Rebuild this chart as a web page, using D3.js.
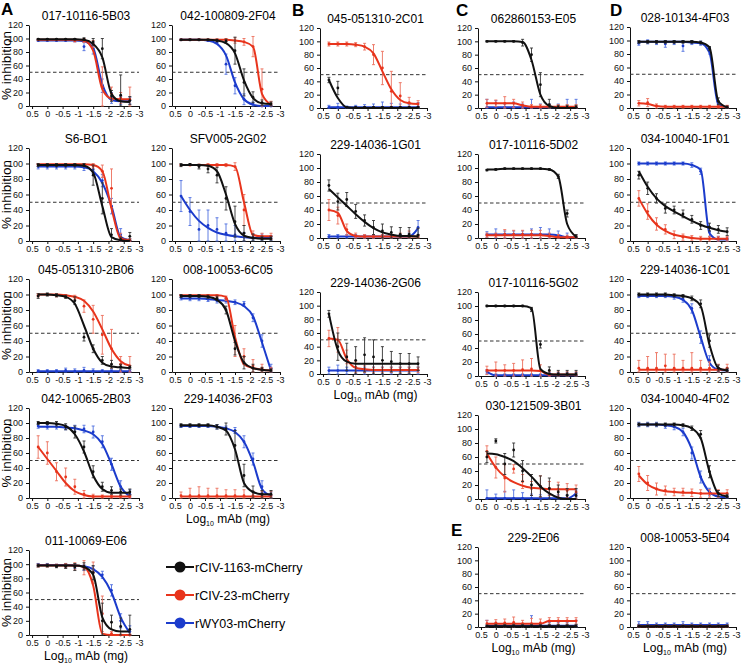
<!DOCTYPE html>
<html><head><meta charset="utf-8">
<script src="https://cdn.jsdelivr.net/npm/d3@7"></script>
<style>body{margin:0;background:#fff} svg{font-family:"Liberation Sans",Arial,sans-serif}</style>
</head><body><svg id="c" width="744" height="669"></svg>
<script>
// ---------- DATA ----------
const doses = [0.3, 0, -0.3, -0.6, -0.9, -1.2, -1.5, -1.8, -2.1, -2.4, -2.7]; // log10 mAb (mg)
const xTicks = [0.5, 0, -0.5, -1, -1.5, -2, -2.5, -3];
const yTicks = [0, 20, 40, 60, 80, 100, 120];
const viruses = ["rCIV-1163-mCherry", "rCIV-23-mCherry", "rWY03-mCherry"];
const panelLetters = ["A", "B", "C", "D", "E"];
const panelNames = ["017-10116-5B03","042-100809-2F04","S6-BO1","SFV005-2G02","045-051310-2B06","008-10053-6C05",
  "042-10065-2B03","229-14036-2F03","011-10069-E06","045-051310-2C01","229-14036-1G01","229-14036-2G06",
  "062860153-E05","017-10116-5D02","017-10116-5G02","030-121509-3B01","028-10134-4F03","034-10040-1F01",
  "229-14036-1C01","034-10040-4F02","229-2E06","008-10053-5E04"];

const blackFit = [
[99,99,99,99,99,98,92,72,18,7,6],[98,98,98,98,97,93,78,38,12,4,3],[98,98,98,98,98,97,88,45,5,1,0],[98,98,98,97,90,60,22,7,4,3,3],
[100,100,99,97,88,60,30,12,7,6,5],[98,98,98,97,93,80,40,12,5,3,2],[100,100,99,96,85,62,30,12,7,7,7],[97,97,97,97,95,90,65,20,8,5,5],
[98,98,98,98,98,96,85,25,8,5,5],[42,15,1,0,0,0,0,0,0,0,0],[70,58,46,34,23,14,8,5,3,3,2],[88,35,18,15,15,15,15,15,15,15,15],
[100,100,100,100,99,72,20,3,0,0,0],[98,98,99,99,99,99,99,98,88,20,2],[100,100,100,100,100,97,10,3,2,2,2],[65,64,60,54,44,32,18,8,2,0,0],
[98,98,98,98,98,98,98,97,90,10,1],[90,70,55,45,38,32,26,21,17,14,12],[100,100,100,100,99,98,95,85,35,5,2],[98,98,98,98,98,97,93,80,35,6,2],
[1,1,1,1,1,1,1,1,1,1,1],[1,1,1,1,1,1,1,1,1,1,1]];
const blackPts = [
[99,99,99,99,99,99,95,85,15,16,8],[98,98,98,98,97,96,82,35,13,5,3],[98,98,98,98,98,98,85,55,8,2,6],[98,99,96,93,85,55,25,10,4,3,3],
[98,100,99,97,92,45,30,15,10,7,6],[98,98,98,97,95,80,30,12,5,3,2],[100,100,99,95,88,68,35,15,10,8,8],[97,97,97,97,95,92,70,30,8,5,5],
[98,98,97,97,96,97,88,20,18,12,8],[42,30,1,1,1,1,1,1,1,1,1],[75,52,55,38,25,15,10,8,5,5,4],[88,40,25,20,28,25,20,18,15,15,15],
[100,100,100,100,98,80,35,5,1,1,1],[97,98,99,99,99,99,99,98,88,35,2],[100,100,100,100,100,95,45,8,3,3,3],[60,83,50,70,40,20,18,15,10,5,5],
[98,98,98,98,98,98,98,97,88,10,1],[85,68,55,42,40,35,28,20,18,15,12],[100,100,100,100,99,98,95,88,40,5,2],[98,98,98,98,98,97,93,85,35,6,2],
[1,1,1,1,1,1,1,1,1,1,1],[1,1,1,1,1,1,1,1,1,1,1]];
const blackErr = [
[1,1,1,1,1,2,5,15,8,30,6],[1,1,1,1,2,3,20,20,8,4,3],[2,2,2,2,2,2,13,20,8,3,5],[2,1,3,5,10,15,20,10,5,3,3],
[3,2,2,2,5,5,5,5,5,3,2],[2,2,2,2,3,5,8,8,5,3,2],[2,2,3,4,8,8,8,6,5,4,4],[2,2,2,2,3,8,20,15,8,5,5],
[2,2,2,3,5,5,10,25,10,12,20],[4,10,1,1,1,1,1,1,1,1,1],[8,12,10,10,8,10,10,8,10,10,10],[5,20,20,20,25,25,20,15,15,15,10],
[1,1,1,1,5,10,18,8,3,3,3],[1,1,1,1,1,1,1,1,3,5,3],[1,1,1,1,1,3,5,5,5,5,5],[8,3,15,10,15,15,15,15,10,10,10],
[2,2,2,2,2,2,2,2,3,5,2],[5,8,6,6,5,5,5,5,5,5,5],[2,2,2,2,2,2,3,5,8,4,3],[2,2,2,2,2,2,3,5,8,4,3],
[2,3,3,3,3,3,3,3,3,3,3],[2,2,2,2,2,2,2,2,2,2,2]];

const redFit = [
[98,98,98,98,98,97,82,25,11,10,10],[98,98,98,98,98,98,97,95,88,18,2],[99,99,99,99,99,99,98,90,42,3,1],[98,98,98,98,98,98,96,50,8,6,6],
[100,100,100,99,97,92,78,55,30,14,8],[99,99,99,99,99,97,45,10,5,3,2],[68,52,36,20,9,4,2,2,2,2,2],[2,2,2,2,2,2,2,2,2,2,2],
[98,98,98,98,98,96,70,2,0,0,0],[96,96,96,95,92,82,55,28,12,7,6],[40,36,10,3,2,2,2,2,2,2,2],[52,50,22,9,7,6,6,6,6,6,6],
[7,7,7,7,4,2,2,2,2,2,2],[4,4,4,4,4,4,4,3,1,1,1],[8,8,8,8,8,8,7,2,2,2,2],[65,45,32,24,19,16,15,14,14,14,14],
[7,6,3,2,2,2,2,2,2,2,2],[55,35,21,13,8,6,4,3,3,3,3],[3,3,3,3,3,3,3,3,3,3,3],[30,18,12,9,8,7,7,6,6,6,6],
[5,5,5,5,5,5,5,9,9,9,9],[1,1,1,1,1,1,1,1,1,1,1]];
const redPts = [
[98,98,98,98,97,97,92,28,18,12,10],[98,98,98,98,98,98,97,95,88,25,3],[99,99,99,99,99,99,97,90,68,5,1],[98,98,98,98,98,98,96,40,8,6,6],
[99,100,99,98,96,85,68,48,30,10,8],[99,99,99,99,98,95,40,20,8,5,3],[68,60,35,28,15,5,2,2,2,2,2],[3,3,3,3,3,3,3,3,3,3,3],
[98,98,98,98,97,95,88,30,2,0,0],[96,96,96,95,92,80,60,25,18,8,6],[40,32,12,3,2,2,2,2,2,2,2],[52,50,25,10,7,6,6,6,6,6,6],
[7,7,7,7,4,2,2,2,2,2,2],[4,4,5,5,5,5,5,3,2,1,1],[8,8,8,8,9,10,8,2,2,2,2],[68,45,30,43,25,15,18,15,14,12,10],
[7,8,3,2,2,2,2,2,2,2,2],[55,38,22,15,8,5,4,3,3,3,3],[5,5,5,8,5,5,5,5,5,5,5],[32,20,12,10,8,8,7,6,6,6,6],
[5,6,6,7,5,5,6,9,9,9,9],[1,1,1,1,1,1,1,1,1,1,1]];
const redErr = [
[1,1,1,1,2,3,5,30,10,8,18],[1,1,1,1,1,2,4,5,15,30,4],[1,1,1,1,1,1,3,8,25,5,2],[1,1,1,2,2,2,5,20,5,4,4],
[2,1,2,2,3,8,18,25,25,10,12],[1,1,1,1,2,3,20,10,8,5,3],[15,15,12,12,10,5,3,2,2,2,2],[5,10,12,10,10,8,8,8,6,6,6],
[2,2,2,3,5,10,15,25,3,1,1],[3,3,3,3,5,15,25,30,20,8,5],[15,12,8,4,3,3,3,3,5,8,3],[12,18,10,8,5,4,4,4,4,4,4],
[6,5,10,6,5,3,3,3,3,3,3],[3,3,7,6,6,6,6,4,3,3,3],[6,12,8,10,14,15,8,4,4,4,4],[8,15,20,6,10,10,15,10,10,10,10],
[4,6,3,2,2,2,2,2,2,2,2],[10,10,8,6,5,4,3,3,3,3,3],[10,15,20,15,18,10,20,10,8,5,5],[10,10,8,6,5,5,5,5,5,5,5],
[5,5,6,8,5,8,6,5,5,5,5],[2,2,2,2,2,2,2,2,2,2,2]];

const blueFit = [
[97,97,97,97,97,96,86,32,9,7,7],[98,98,98,97,92,75,35,10,2,0,0],[96,96,96,96,96,95,90,75,45,5,1],[58,40,26,17,11,8,6,5,4,4,4],
[1,1,1,1,1,1,1,1,1,1,1],[95,95,95,94,93,92,90,85,72,38,2],[95,95,95,94,93,90,85,72,45,15,2],[96,96,96,96,95,93,88,75,48,12,3],
[99,99,99,99,98,97,93,82,60,25,3],[1,1,1,1,1,1,1,1,1,1,1],[2,2,2,2,2,2,2,2,2,2,14],[5,5,5,5,5,5,5,5,5,5,5],
[1,1,1,1,1,1,1,1,1,1,1],[5,5,5,5,5,5,5,5,4,1,1],[6,1,1,1,1,1,1,1,1,1,1],[1,1,1,1,1,1,1,1,1,1,8],
[98,98,98,98,98,98,97,96,82,5,1],[100,100,100,100,100,100,98,92,10,2,2],[98,98,98,98,97,93,80,45,12,3,2],[98,98,98,97,95,88,65,28,8,2,1],
[2,2,2,2,2,2,2,2,2,2,2],[3,3,3,3,3,3,3,3,3,3,3]];
const bluePts = [
[97,97,97,97,97,88,85,30,12,8,8],[98,98,98,97,95,62,30,10,3,0,0],[96,96,96,96,96,95,92,78,45,8,1],[58,38,15,20,15,10,8,5,5,5,4],
[1,1,1,2,1,2,1,1,1,1,1],[96,95,95,94,92,92,90,88,70,40,5],[96,95,95,94,93,92,88,75,45,15,5],[96,96,96,96,95,93,90,75,52,15,3],
[99,99,98,98,97,95,93,85,63,20,5],[1,1,1,1,1,1,1,1,1,1,2],[2,2,2,2,2,2,2,2,2,2,15],[5,5,5,5,5,5,5,5,5,5,5],
[1,1,1,1,1,1,1,1,1,1,1],[5,5,5,5,5,5,5,5,4,2,1],[6,1,1,1,1,1,1,1,1,1,1],[1,1,1,1,1,1,1,1,1,1,8],
[96,98,97,95,97,92,97,96,85,5,1],[100,100,100,100,100,100,98,90,12,3,2],[98,98,98,98,97,94,82,45,15,3,2],[98,98,98,96,95,88,60,28,8,2,1],
[2,2,2,2,2,2,2,2,2,2,2],[3,3,3,3,3,3,3,3,3,3,3]];
const blueErr = [
[1,1,1,1,2,6,8,10,8,6,5],[1,1,1,1,2,15,12,8,3,1,1],[3,3,3,3,3,4,5,8,10,8,2],[20,18,25,20,15,12,12,6,4,4,3],
[2,2,2,3,3,4,3,2,2,2,2],[3,3,3,3,3,3,3,3,5,8,5],[3,3,3,3,4,5,8,8,8,8,6],[2,2,2,2,3,3,4,8,8,8,5],
[2,2,2,3,3,4,4,5,8,10,8],[3,6,2,3,4,5,8,6,5,4,6],[3,3,3,3,3,3,3,3,3,5,10],[5,8,5,5,5,5,5,5,5,5,5],
[12,10,5,8,5,12,5,5,5,12,12],[4,8,5,5,5,8,10,8,6,5,3],[3,2,2,2,2,2,2,4,4,4,4],[12,6,10,12,8,6,5,5,5,5,5],
[3,3,3,5,3,8,3,3,5,4,2],[2,2,2,2,2,2,3,4,6,3,2],[2,2,2,2,3,4,6,8,6,3,2],[3,3,3,3,4,5,8,8,5,3,2],
[8,4,3,3,3,15,3,5,5,5,8],[5,5,3,3,3,5,3,3,3,3,3]];

// ---------- LAYOUT (positions only) ----------
// [axis x, top y (value 120), plot height, plot width]
const layout = [
[29,25,81,110],[172,25,81,108],[29,148,93,110],[172,148,93,108],[29,279,93,110],[172,279,93,108],
[29,408,90,110],[172,408,90,108],[29,550,85,110],
[320,28,80,107],[320,154,84,107],[320,292,82,107],
[478,28,80,107],[478,154,84,107],[478,292,84,107],[478,415,84,107],
[630,27,81,106],[630,148,93,106],[630,279,93,106],[630,408,90,106],
[478,547,80,107],[630,547,80,106]];
const letterPos = [[1,15],[292,16],[456,16],[610,16],[451,536]];
const yLabelPanels = [0,2,4,6,8];
const xLabelPanels = [7,8,11,20,21];

const colors = ["#111111", "#e8341c", "#1c3ccc"];
const errColors = ["#333333", "#ec6f5c", "#4f6fe0"];

const svg = d3.select("#c");
const fits = [blackFit, redFit, blueFit], pts = [blackPts, redPts, bluePts], errs = [blackErr, redErr, blueErr];

panelNames.forEach((name, i) => {
  const [x0, yTop, h, PW] = layout[i];
  const x = d3.scaleLinear().domain([0.6, -3]).range([x0, x0 + PW]);
  const y = d3.scaleLinear().domain([0, 120]).range([yTop + h, yTop]);
  const g = svg.append("g");

  g.append("text").attr("x", x0 + PW / 2 + 2).attr("y", yTop - 5).attr("text-anchor", "middle")
    .attr("font-size", 12).text(name);

  const ax = g.append("g").attr("transform", `translate(0,${yTop + h})`)
    .call(d3.axisBottom(x).tickValues(xTicks).tickSize(3).tickPadding(2).tickSizeOuter(0).tickFormat(d => String(d)));
  const ay = g.append("g").attr("transform", `translate(${x0},0)`)
    .call(d3.axisLeft(y).tickValues(yTicks).tickSize(3).tickSizeOuter(0).tickFormat(d => String(d)));
  [ax, ay].forEach(a => {
    a.selectAll("text").attr("font-size", 9).attr("fill", "#111").attr("font-family", "Liberation Sans, Arial, sans-serif");
    a.selectAll("path,line").attr("stroke", "#111");
  });
  ax.selectAll("text").attr("dy", "0.72em");

  g.append("line").attr("x1", x0).attr("x2", x0 + PW).attr("y1", y(50)).attr("y2", y(50))
    .attr("stroke", "#333").attr("stroke-width", 1).attr("stroke-dasharray", "3.5,2.5");

  const line = d3.line().x((d, j) => x(doses[j])).y(d => y(d)).curve(d3.curveMonotoneX);
  [2, 1, 0].forEach(s => {
    const P = pts[s][i], E = errs[s][i], F = fits[s][i];
    const eg = g.append("g").attr("stroke", errColors[s]).attr("stroke-width", 0.9);
    P.forEach((p, j) => {
      const lo = Math.max(0, p - E[j]), hi = Math.min(124, p + E[j]);
      const cx = x(doses[j]);
      eg.append("line").attr("x1", cx).attr("x2", cx).attr("y1", y(lo)).attr("y2", y(hi));
      eg.append("line").attr("x1", cx - 1.5).attr("x2", cx + 1.5).attr("y1", y(hi)).attr("y2", y(hi));
      eg.append("line").attr("x1", cx - 1.5).attr("x2", cx + 1.5).attr("y1", y(lo)).attr("y2", y(lo));
    });
    g.append("path").attr("d", line(F)).attr("fill", "none").attr("stroke", colors[s]).attr("stroke-width", 2);
    g.append("g").selectAll("circle").data(P).join("circle")
      .attr("cx", (d, j) => x(doses[j])).attr("cy", d => y(d)).attr("r", 1.4).attr("fill", colors[s]);
  });

  if (yLabelPanels.includes(i)) {
    g.append("text").attr("transform", `translate(11,${yTop + h / 2}) rotate(-90)`).attr("text-anchor", "middle")
      .attr("font-size", 13.5).text("% inhibition");
  }
  if (xLabelPanels.includes(i)) {
    const t = g.append("text").attr("x", x0 + PW / 2 + 2).attr("y", yTop + h + 25).attr("text-anchor", "middle").attr("font-size", 12);
    t.append("tspan").text("Log");
    t.append("tspan").attr("font-size", 7).attr("dy", 2.5).text("10");
    t.append("tspan").attr("dy", -2.5).text(" mAb (mg)");
  }
});

panelLetters.forEach((L, i) => {
  svg.append("text").attr("x", letterPos[i][0]).attr("y", letterPos[i][1]).attr("font-size", 17)
    .attr("font-weight", "bold").text(L);
});

viruses.forEach((v, i) => {
  const yy = 567 + i * 28;
  svg.append("line").attr("x1", 166).attr("x2", 194).attr("y1", yy).attr("y2", yy).attr("stroke", colors[i]).attr("stroke-width", 2);
  svg.append("circle").attr("cx", 180).attr("cy", yy).attr("r", 5.5).attr("fill", colors[i]);
  svg.append("text").attr("x", 195).attr("y", yy + 4.5).attr("font-size", 12.5).text(v);
});
</script></body></html>
